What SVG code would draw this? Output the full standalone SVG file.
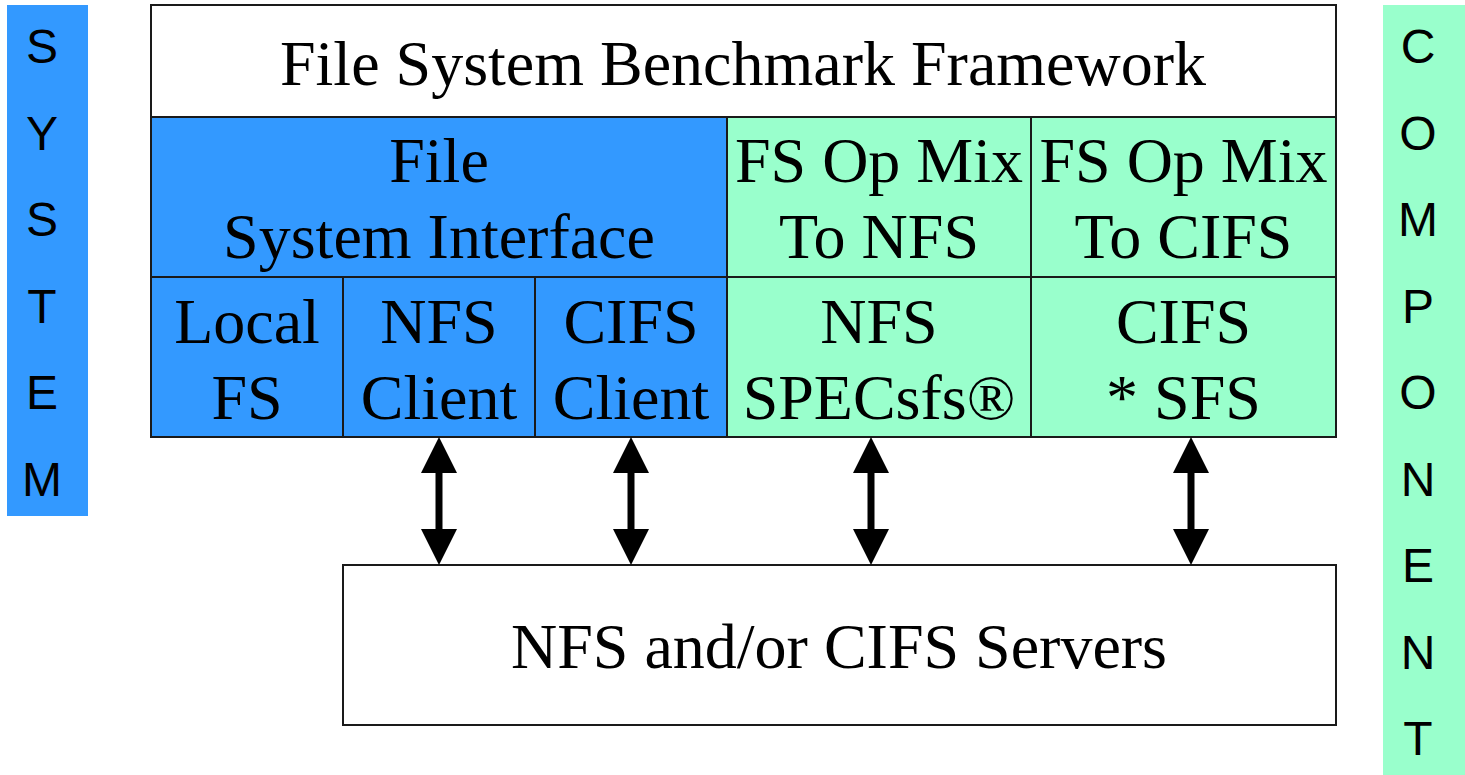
<svg xmlns="http://www.w3.org/2000/svg" width="1465" height="775" viewBox="0 0 1465 775">
  <style>
    .cell { stroke: #1a1a1a; stroke-width: 2; }
    .blue { fill: #3399ff; }
    .green { fill: #99ffcc; }
    .white { fill: #ffffff; }
    .serif { font-family: "Liberation Serif", "Times New Roman", serif; font-size: 64px; fill: #000; text-anchor: middle; }
    .side { font-family: "Liberation Sans", Arial, sans-serif; font-size: 48px; fill: #000; text-anchor: middle; }
    .shaft { stroke: #000; stroke-width: 7; fill: none; }
  </style>
  <defs>
    <marker id="head" viewBox="0 0 36 36" refX="36" refY="18" markerWidth="36" markerHeight="36" markerUnits="userSpaceOnUse" orient="auto-start-reverse">
      <path d="M0,0 L36,18 L0,36 Z" fill="#000"/>
    </marker>
  </defs>
  <rect width="1465" height="775" fill="#ffffff"/>

  <!-- side labels -->
  <g id="system-bar">
    <rect x="7" y="5" width="81" height="511" class="blue"/>
    <text class="side" x="42" y="63">S</text>
    <text class="side" x="42" y="149.5">Y</text>
    <text class="side" x="42" y="236">S</text>
    <text class="side" x="42" y="322.5">T</text>
    <text class="side" x="42" y="409">E</text>
    <text class="side" x="42" y="495.5">M</text>
  </g>
  <g id="component-bar">
    <rect x="1383" y="5" width="82" height="770" class="green"/>
    <text class="side" x="1418" y="63">C</text>
    <text class="side" x="1418" y="149.5">O</text>
    <text class="side" x="1418" y="236">M</text>
    <text class="side" x="1418" y="322.5">P</text>
    <text class="side" x="1418" y="409">O</text>
    <text class="side" x="1418" y="495.5">N</text>
    <text class="side" x="1418" y="582">E</text>
    <text class="side" x="1418" y="668.5">N</text>
    <text class="side" x="1418" y="755">T</text>
  </g>

  <!-- framework stack -->
  <g id="framework">
    <rect x="151" y="5" width="1185" height="112" class="cell white"/>
    <text class="serif" x="743" y="85">File System Benchmark Framework</text>
  </g>
  <g id="fs-interface">
    <rect x="151" y="117" width="576" height="160" class="cell blue"/>
    <text class="serif" x="439" y="182">File</text>
    <text class="serif" x="439" y="258">System Interface</text>
  </g>
  <g id="mix-nfs">
    <rect x="727" y="117" width="304" height="160" class="cell green"/>
    <text class="serif" x="879" y="182">FS Op Mix</text>
    <text class="serif" x="879" y="258">To NFS</text>
  </g>
  <g id="mix-cifs">
    <rect x="1031" y="117" width="305" height="160" class="cell green"/>
    <text class="serif" x="1183.5" y="182">FS Op Mix</text>
    <text class="serif" x="1183.5" y="258">To CIFS</text>
  </g>
  <g id="local-fs">
    <rect x="151" y="277" width="192" height="160" class="cell blue"/>
    <text class="serif" x="247" y="343">Local</text>
    <text class="serif" x="247" y="419">FS</text>
  </g>
  <g id="nfs-client">
    <rect x="343" y="277" width="192" height="160" class="cell blue"/>
    <text class="serif" x="439" y="343">NFS</text>
    <text class="serif" x="439" y="419">Client</text>
  </g>
  <g id="cifs-client">
    <rect x="535" y="277" width="192" height="160" class="cell blue"/>
    <text class="serif" x="631" y="343">CIFS</text>
    <text class="serif" x="631" y="419">Client</text>
  </g>
  <g id="specsfs">
    <rect x="727" y="277" width="304" height="160" class="cell green"/>
    <text class="serif" x="879" y="343">NFS</text>
    <text class="serif" x="879" y="419">SPECsfs®</text>
  </g>
  <g id="cifs-sfs">
    <rect x="1031" y="277" width="305" height="160" class="cell green"/>
    <text class="serif" x="1183.5" y="343">CIFS</text>
    <text class="serif" x="1183.5" y="419">* SFS</text>
  </g>

  <g id="servers">
    <rect x="343" y="565" width="993" height="160" class="cell white"/>
    <text class="serif" x="839" y="668">NFS and/or CIFS Servers</text>
  </g>

  <!-- two-way links between clients and servers -->
  <g id="connectors">
    <line class="shaft" x1="439" y1="470" x2="439" y2="532"/>
    <path d="M439,437 L457,473 L421,473 Z M439,565 L457,529 L421,529 Z" fill="#000"/>
    <line class="shaft" x1="631" y1="470" x2="631" y2="532"/>
    <path d="M631,437 L649,473 L613,473 Z M631,565 L649,529 L613,529 Z" fill="#000"/>
    <line class="shaft" x1="871" y1="470" x2="871" y2="532"/>
    <path d="M871,437 L889,473 L853,473 Z M871,565 L889,529 L853,529 Z" fill="#000"/>
    <line class="shaft" x1="1191" y1="470" x2="1191" y2="532"/>
    <path d="M1191,437 L1209,473 L1173,473 Z M1191,565 L1209,529 L1173,529 Z" fill="#000"/>
  </g>
</svg>
